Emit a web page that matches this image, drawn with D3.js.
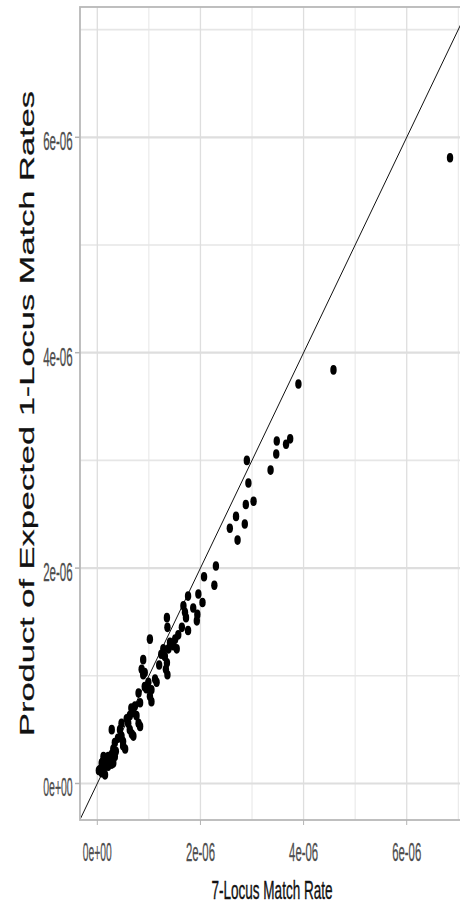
<!DOCTYPE html>
<html><head><meta charset="utf-8">
<script src="https://cdn.jsdelivr.net/npm/d3@7"></script>
<style>html,body{margin:0;padding:0;background:#fff;}svg{display:block;}</style>
</head><body>
<svg id="chart" width="460" height="912"></svg>
<script>
// Data (units: match rates)
const matchRate7 = [6.84,4.58,3.90,3.48,3.47,3.66,3.74,3.36,2.90,2.93,2.88,3.03,2.69,2.57,2.86,2.72,2.30,2.07,2.27,1.76,1.96,
  2.04,1.86,1.94,1.93,1.67,1.70,1.72,1.76,1.35,1.36,1.02,1.51,1.54,1.47,1.41,1.38,1.28,1.31,1.35,1.33,1.36,0.89,0.92,
  1.12,1.15,1.05,1.02,1.05,0.99,0.92,0.80,0.83,0.73,0.70,0.76,0.80,0.83,0.63,0.60,0.63,0.67,0.70,0.47,0.44,0.47,0.50,0.54,0.50,
  0.28,0.34,0.31,0.34,0.28,0.25,0.31,0.21,0.12,0.085,0.15,0.12,0.05,0.18,0.21,0.28,0.15,0.085,1.57,1.64,0.89,0.86,
  0.40,0.57,0.66,0.95,1.20,1.24,0.36,0.10,0.03];
const productRate1 = [5.81,3.84,3.71,3.18,3.06,3.15,3.20,2.91,3.00,2.79,2.59,2.62,2.48,2.37,2.41,2.26,2.02,1.92,1.84,1.74,1.76,
  1.68,1.63,1.57,1.51,1.65,1.59,1.54,1.42,1.54,1.45,1.34,1.34,1.25,1.28,1.31,1.25,1.25,1.18,1.12,1.06,1.01,1.01,1.03,
  0.97,0.94,0.87,0.81,0.76,0.94,0.90,0.84,0.75,0.72,0.66,0.63,0.56,0.53,0.63,0.56,0.50,0.46,0.44,0.56,0.50,0.44,0.35,0.32,0.39,
  0.50,0.38,0.32,0.25,0.27,0.22,0.19,0.25,0.25,0.19,0.16,0.11,0.13,0.19,0.16,0.18,0.08,0.10,1.38,1.45,1.15,1.06,
  0.42,0.60,0.70,0.88,1.10,1.20,0.30,0.20,0.12];
const xTickValues = [0, 2e-6, 4e-6, 6e-6];
const xTickLabels = ["0e+00", "2e-06", "4e-06", "6e-06"];
const yTickValues = [0, 2e-6, 4e-6, 6e-6];
const yTickLabels = ["0e+00", "2e-06", "4e-06", "6e-06"];
const xMinor = [1e-6, 3e-6, 5e-6, 7e-6];
const yMinor = [1e-6, 3e-6, 5e-6, 7e-6];
const xTitle = "7-Locus Match Rate";
const yTitle = "Product of Expected 1-Locus Match Rates";

const points = matchRate7.map((v, i) => ({x: v * 1e-6, y: productRate1[i] * 1e-6}));

const svg = d3.select("#chart");
const L = 80, T = 7, B = 820, R = 468.6;
const x = d3.scaleLinear().domain([-0.3355e-6, 7.2e-6]).range([L, R]);
const y = d3.scaleLinear().domain([-0.339e-6, 7.2098e-6]).range([B, T]);

svg.append("defs").append("clipPath").attr("id", "clip")
  .append("rect").attr("x", L).attr("y", T).attr("width", R - L).attr("height", B - T);

const grid = svg.append("g");
// minor grid
grid.selectAll(".ymin").data(yMinor).join("line")
  .attr("x1", L).attr("x2", R).attr("y1", d => y(d)).attr("y2", d => y(d))
  .attr("stroke", "#e6e6e6").attr("stroke-width", 1.6);
grid.selectAll(".xmin").data(xMinor).join("line")
  .attr("y1", T).attr("y2", B).attr("x1", d => x(d)).attr("x2", d => x(d))
  .attr("stroke", "#e6e6e6").attr("stroke-width", 1);
// major grid
grid.selectAll(".ymaj").data(yTickValues).join("line")
  .attr("x1", L).attr("x2", R).attr("y1", d => y(d)).attr("y2", d => y(d))
  .attr("stroke", "#dedede").attr("stroke-width", 2.2);
grid.selectAll(".xmaj").data(xTickValues).join("line")
  .attr("y1", T).attr("y2", B).attr("x1", d => x(d)).attr("x2", d => x(d))
  .attr("stroke", "#dedede").attr("stroke-width", 1.3);

const plot = svg.append("g").attr("clip-path", "url(#clip)");
// identity line
const dom = x.domain();
plot.append("line")
  .attr("x1", x(dom[0])).attr("y1", y(dom[0]))
  .attr("x2", x(8e-6)).attr("y2", y(8e-6))
  .attr("stroke", "#111").attr("stroke-width", 1);

plot.selectAll("ellipse").data(points).join("ellipse")
  .attr("cx", d => x(d.x)).attr("cy", d => y(d.y))
  .attr("rx", 3.2).attr("ry", 4.8).attr("fill", "#000");

// panel border
svg.append("rect").attr("x", L).attr("y", T).attr("width", R - L).attr("height", B - T)
  .attr("fill", "none").attr("stroke", "#b8b8b8").attr("stroke-width", 1.8);

// ticks
svg.selectAll(".yt").data(yTickValues).join("line")
  .attr("x1", L - 5).attr("x2", L).attr("y1", d => y(d)).attr("y2", d => y(d))
  .attr("stroke", "#b3b3b3").attr("stroke-width", 1.5);
svg.selectAll(".xt").data(xTickValues).join("line")
  .attr("y1", B).attr("y2", B + 5).attr("x1", d => x(d)).attr("x2", d => x(d))
  .attr("stroke", "#b3b3b3").attr("stroke-width", 1);

const font = "'Liberation Sans', Arial, sans-serif";
// y tick labels
svg.selectAll(".ytl").data(yTickValues).join("text")
  .attr("x", 72.7).attr("y", d => y(d) + 13)
  .attr("text-anchor", "end")
  .attr("font-family", font).attr("font-size", 26).attr("fill", "#4d4d4d")
  .attr("stroke", "#4d4d4d").attr("stroke-width", 0.3)
  .attr("textLength", 29.5).attr("lengthAdjust", "spacingAndGlyphs")
  .text((d, i) => yTickLabels[i]);
// x tick labels
svg.selectAll(".xtl").data(xTickValues).join("text")
  .attr("x", d => x(d)).attr("y", 861)
  .attr("text-anchor", "middle")
  .attr("font-family", font).attr("font-size", 26).attr("fill", "#4d4d4d")
  .attr("stroke", "#4d4d4d").attr("stroke-width", 0.3)
  .attr("textLength", 29).attr("lengthAdjust", "spacingAndGlyphs")
  .text((d, i) => xTickLabels[i]);

// titles
svg.append("text").attr("x", 272).attr("y", 899)
  .attr("text-anchor", "middle").attr("font-family", font).attr("font-size", 26).attr("fill", "#111")
  .attr("stroke", "#111").attr("stroke-width", 0.4)
  .attr("textLength", 121).attr("lengthAdjust", "spacingAndGlyphs")
  .text(xTitle);
svg.append("text")
  .attr("transform", "translate(33.5,413.5) rotate(-90) scale(1,0.61)")
  .attr("text-anchor", "middle").attr("font-family", font).attr("font-size", 34.5).attr("fill", "#111")
  .attr("stroke", "#111").attr("stroke-width", 0.4)
  .attr("textLength", 645).attr("lengthAdjust", "spacingAndGlyphs")
  .text(yTitle);
</script>
</body></html>
